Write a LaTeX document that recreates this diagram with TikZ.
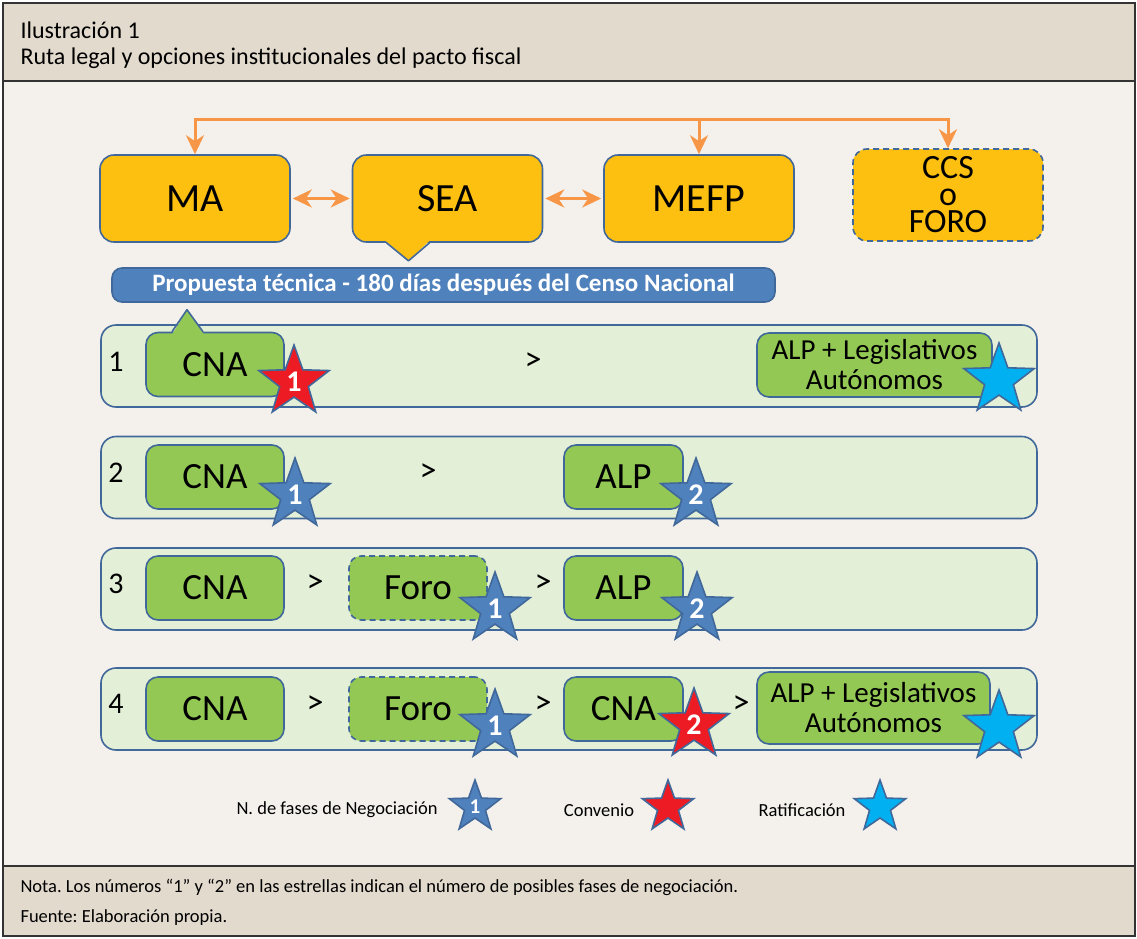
\documentclass[tikz,border=0pt]{standalone}
\usepackage{fontspec}
\setmainfont{Carlito}
\usetikzlibrary{arrows.meta,positioning,shapes.geometric}
\frenchspacing

\definecolor{fondo}{HTML}{F4F1EC}
\definecolor{cabecera}{HTML}{E2DACD}
\definecolor{amarillo}{HTML}{FDC010}
\definecolor{borde}{HTML}{41689A}
\definecolor{naranja}{HTML}{F79646}
\definecolor{verdeclaro}{HTML}{E3EFD6}
\definecolor{verde}{HTML}{92C853}
\definecolor{azul}{HTML}{4F81BD}
\definecolor{rojo}{HTML}{ED1C24}
\definecolor{celeste}{HTML}{00B0F0}

\newcommand{\fs}[1]{\fontsize{#1}{#1}\selectfont}

\begin{document}
\begin{tikzpicture}[x=1pt,y=-1pt,>={Stealth[length=19pt,width=18pt,inset=6pt]}]
			\tikzset{inst/.style={draw=borde, line width=1.6pt, fill=amarillo, rounded corners=14pt, minimum width=190pt, minimum height=87pt, inner sep=0pt, font=\fs{40}},
				fase/.style={draw=borde, line width=1.6pt, fill=verde, rounded corners=12pt, minimum width=138pt, minimum height=64pt, inner sep=0pt, font=\fs{37}},
				fila/.style={draw=borde, line width=1.6pt, fill=verdeclaro, rounded corners=15pt, minimum width=936pt, minimum height=82pt},
				sig/.style={font=\fs{34}},
				estrella/.style={star, star points=5, star point ratio=2.45, draw=borde, line width=1.6pt, minimum size=74pt, inner sep=0pt, text=white, font=\bfseries\fs{30}},
				flecha/.style={draw=naranja, line width=3pt},
				discontinuo/.style={dash pattern=on 6pt off 4pt},
			}
			\useasboundingbox (0,0) rectangle (1137,938);

			% marco
			\fill[fondo] (3,81) rectangle (1135,866);
			\fill[cabecera] (3,3) rectangle (1135,81);
			\fill[cabecera] (3,866) rectangle (1135,936);
			\draw[line width=1.5pt, black!80] (3,3) rectangle (1135,936);
			\draw[line width=1.5pt, black!80] (3,81) -- (1135,81);
			\draw[line width=1.5pt, black!80] (3,866) -- (1135,866);
			\node[anchor=west, font=\fs{24}] (titulo) at (17,30) {Ilustración 1};
			\node[anchor=west, font=\fs{24}] (subtitulo) at (17,58) {Ruta legal y opciones institucionales del pacto fiscal};

			% instituciones
			\node[inst] (ma) at (195,198.5) {MA};
			\node[inst] (sea) at (447.5,198.5) {SEA};
			\node[inst] (mefp) at (699,198.5) {MEFP};
			\node[inst, discontinuo, minimum height=92pt, align=center, font=\fontsize{34}{27}\selectfont] (ccs) at (948,195) {CCS\\o\\FORO};
			\fill[amarillo] ([xshift=-62pt,yshift=2pt]sea.south) -- ([xshift=-39pt,yshift=-18pt]sea.south) -- ([xshift=-18pt,yshift=2pt]sea.south) -- cycle;
			\path[draw=borde, line width=1.6pt, line join=round]
			([xshift=-61pt]sea.south) -- ([xshift=-39pt,yshift=-18pt]sea.south) -- ([xshift=-18pt]sea.south);

			\coordinate (linea) at (0,119);
			\path[flecha, <->] (ma.north) |- (linea -| ccs.north) -- (ccs.north);
			\path[flecha, ->] (linea -| mefp.north) -- (mefp.north);
			\path[flecha, <->, shorten <=2pt, shorten >=2pt] (ma) -- (sea);
			\path[flecha, <->, shorten <=2pt, shorten >=2pt] (sea) -- (mefp);

			\node[draw=borde, line width=1.6pt, fill=azul, rounded corners=10pt, minimum width=663pt, minimum height=34pt, text=white, font=\bfseries\fs{25}] (propuesta) at (443.5,285) {Propuesta técnica - 180 días después del Censo Nacional};

			% filas
			\node[fila] (fila1) at (569,366) {};
			\node[fila] (fila2) at (569,477.5) {};
			\node[fila] (fila3) at (569,589) {};
			\node[fila] (fila4) at (569,709) {};
			\node[font=\fs{30}] (n1) at (116,362) {1};
			\node[font=\fs{30}] (n2) at (116,473) {2};
			\node[font=\fs{30}] (n3) at (116,584) {3};
			\node[font=\fs{30}] (n4) at (116,704) {4};

			% fila 1
			\node[fase] (cna1) at (215,364.5) {CNA};
			\fill[verde] ([xshift=-43pt,yshift=-3pt]cna1.north) -- ([xshift=-28pt,yshift=22pt]cna1.north) -- ([xshift=-11pt,yshift=-3pt]cna1.north) -- cycle;
			\path[draw=borde, line width=1.6pt, line join=round]
			([xshift=-43pt]cna1.north) -- ([xshift=-28pt,yshift=22pt]cna1.north) -- ([xshift=-12pt]cna1.north);
			\node[sig] (s11) at (533,362) {>};
			\node[fase, minimum width=235pt, align=center, font=\fontsize{29}{30}\selectfont] (alp1) at (874.5,365) {ALP + Legislativos\\Autónomos};
			\node[estrella, fill=rojo] (e11) at (294,382) {1};
			\node[estrella, fill=celeste] (e12) at (999,380) {};

			% fila 2
			\node[fase] (cna2) at (215,477) {CNA};
			\node[sig] (s21) at (428,473) {>};
			\node[fase, minimum width=119pt] (alp2) at (623.5,477) {ALP};
			\node[estrella, fill=azul] (e21) at (295,495) {1};
			\node[estrella, fill=azul] (e22) at (696,495) {2};

			% fila 3
			\node[fase] (cna3) at (215,588) {CNA};
			\node[sig] (s31) at (315,584) {>};
			\node[fase, discontinuo] (foro3) at (418,588) {Foro};
			\node[sig] (s32) at (543,584) {>};
			\node[fase, minimum width=119pt] (alp3) at (623.5,588) {ALP};
			\node[estrella, fill=azul] (e31) at (495,609) {1};
			\node[estrella, fill=azul] (e32) at (697,609) {2};

			% fila 4
			\node[fase] (cna4) at (215,709) {CNA};
			\node[sig] (s41) at (315,705) {>};
			\node[fase, discontinuo] (foro4) at (418,709) {Foro};
			\node[sig] (s42) at (543,705) {>};
			\node[fase, minimum width=119pt] (cna4b) at (623.5,709) {CNA};
			\node[sig] (s43) at (741,705) {>};
			\node[fase, minimum width=233pt, minimum height=72pt, align=center, font=\fontsize{29}{30}\selectfont] (alp4) at (873.5,708) {ALP + Legislativos\\Autónomos};
			\node[estrella, fill=azul] (e41) at (495,726) {1};
			\node[estrella, fill=rojo] (e42) at (694,725) {2};
			\node[estrella, fill=celeste] (e43) at (999,727) {};

			% leyenda
			\node[anchor=east, font=\fs{18.5}] (leyfases) at (441,810) {N. de fases de Negociación};
			\node[estrella, fill=azul, minimum size=54pt, font=\bfseries\fs{21}] (leyazul) at (475,807) {1};
			\node[font=\fs{18.5}] (leyconvenio) at (599,810) {Convenio};
			\node[estrella, fill=rojo, minimum size=54pt] (leyrojo) at (668,807) {};
			\node[font=\fs{18.5}] (leyratif) at (802,810) {Ratificación};
			\node[estrella, fill=celeste, minimum size=54pt] (leyceleste) at (880,807) {};

			% pie
			\node[anchor=west, font=\fs{18.5}] (nota) at (17,887) {Nota. Los números “1” y “2” en las estrellas indican el número de posibles fases de negociación.};
			\node[anchor=west, font=\fs{18.5}] (fuente) at (17,918) {Fuente: Elaboración propia.};
		\end{tikzpicture}
\end{document}
